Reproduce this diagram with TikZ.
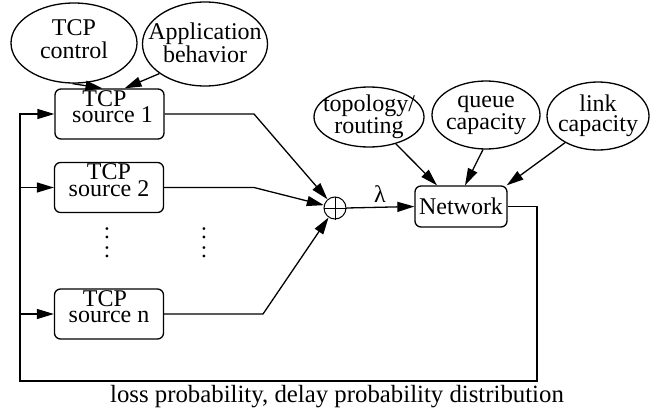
\documentclass[tikz,border=0pt]{standalone}
\usepackage{fontspec}
\setmainfont{Liberation Serif}
\usetikzlibrary{arrows.meta,shapes.geometric}
\begin{document}
\begin{tikzpicture}[x=1pt,y=-1pt,line width=1.3pt,
  >={Triangle[length=17pt,width=10pt]},
  bx/.style={draw,rounded corners=6pt,minimum width=109pt,minimum height=50pt,
    inner sep=0pt,align=center,font=\fontsize{24}{16.5}\selectfont,text depth=15pt},
  netbox/.style={draw,rounded corners=6pt,minimum width=92pt,minimum height=41pt,
    inner sep=0pt,font=\fontsize{24}{22}\selectfont},
  el/.style={draw,ellipse,inner xsep=-20pt,inner ysep=-12pt,align=center,font=\fontsize{24}{22.5}\selectfont},
  elr/.style={draw,ellipse,inner xsep=-20pt,inner ysep=-12pt,align=center,font=\fontsize{24}{20.5}\selectfont},
  dotcol/.style={inner sep=0pt,align=center,font=\fontsize{23}{19}\selectfont},
  lbl/.style={inner sep=0pt,font=\fontsize{24}{22}\selectfont}]
\useasboundingbox (0,0) rectangle (652,412);

% ellipses
\node[el,minimum width=126pt,minimum height=80pt,text depth=8pt] (ctrl) at (74,43) {TCP\\control};
\node[el,minimum width=125pt,minimum height=84pt,text depth=3pt] (app) at (205,44) {Application\\behavior};
\node[elr,minimum width=110pt,minimum height=60pt] (topo) at (369,117) {topology/\\routing};
\node[elr,minimum width=108pt,minimum height=68pt] (queue) at (486,115) {queue\\capacity};
\node[elr,minimum width=102pt,minimum height=68pt] (link) at (598,116) {link\\capacity};

% boxes
\node[bx] (s1) at (109.5,114) {\hspace*{-10pt}TCP\\source 1\hspace*{-6pt}};
\node[bx] (s2) at (109,187.5) {TCP\\source 2};
\node[bx] (sn) at (109,314) {\hspace*{-8pt}TCP\\source n};
\node[netbox] (net) at (461,206.5) {Network};

% sum
\node[draw,circle,minimum size=22pt,inner sep=0pt,line width=1pt] (sum) at (335,208) {};
\draw[line width=0.9pt] (sum.north) -- (sum.south) (sum.west) -- (sum.east);

% dots
\node[dotcol] (d1) at (107,243) {:\\:};
\node[dotcol] (d2) at (204,243) {:\\:};

% labels
\node[lbl] (lam) at (380,194) {λ};
\node[lbl,anchor=base,font=\fontsize{24.8}{24}\selectfont] (fbtext) at (337,402) {loss probability, delay probability distribution};

% inputs to source 1
\draw[->] (ctrl.268) -- ([xshift=-7pt]s1.north);
\draw[->] (app.213) -- ([xshift=15pt]s1.north);

% inputs to network
\draw[->] (topo.315) -- ([xshift=-24pt]net.north);
\draw[->] (queue.265) -- ([xshift=4pt]net.north);
\draw[->] (link.219) -- ([xshift=-1pt]net.north east);

% sources to sum
\coordinate (b1) at (254,114);
\coordinate (b2) at (254,187.5);
\coordinate (bn) at (263,314);
\draw[->] (s1.east) -- (b1) -- (sum);
\draw[->] (s2.east) -- (b2) -- (sum);
\draw[->] (sn.east) -- (bn) -- (sum);

% sum to network
\draw[->] (sum.east) -- (net.west);

% feedback
\coordinate (fbR) at (537,381);
\coordinate (fbL) at (20,381);
\draw[->] (net.east) -| (fbR) -- (fbL) |- (s1.west);
\draw[->] (s2.west -| fbL) -- (s2.west);
\draw[->] (sn.west -| fbL) -- (sn.west);
\end{tikzpicture}
\end{document}
